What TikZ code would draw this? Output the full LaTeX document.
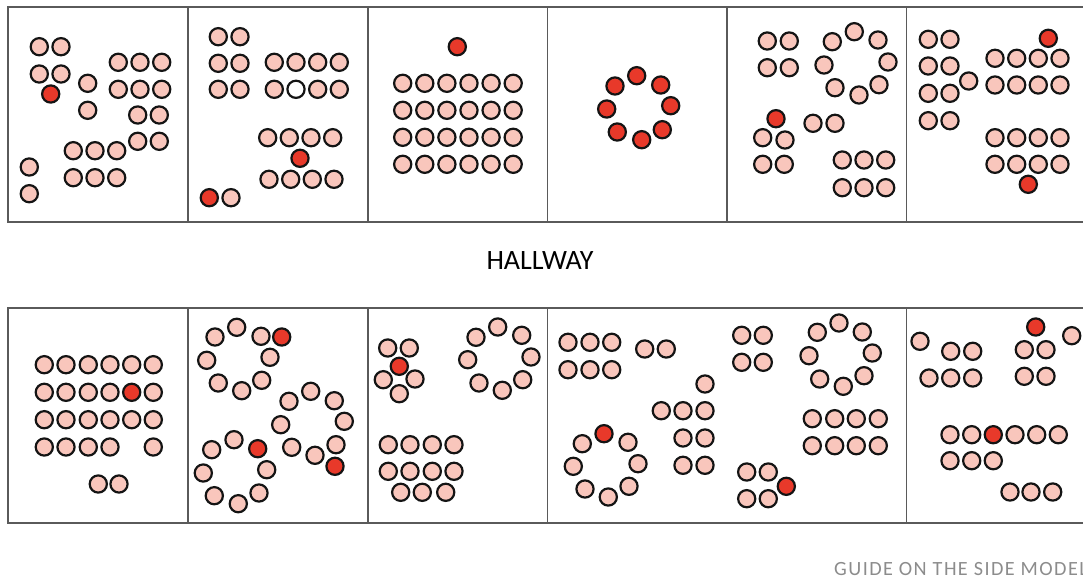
\documentclass[tikz,border=0pt]{standalone}
\usepackage{fontspec}
\setmainfont{Carlito}
\definecolor{pk}{HTML}{F9C6BC}
\definecolor{rd}{HTML}{E8392A}
\definecolor{wall}{HTML}{5A5A5A}
\definecolor{capt}{HTML}{8C8C8C}
\tikzset{
  pc/.style={draw=black!92, line width=2.2pt, fill=pk},
  rc/.style={draw=black!92, line width=2.2pt, fill=rd},
  wc/.style={draw=black!92, line width=2.2pt, fill=white},
  wallline/.style={draw=wall, line width=1.7pt},
}
\newcommand{\rr}{8.6}
\begin{document}
\begin{tikzpicture}[x=1pt,y=-1pt]
\useasboundingbox (0,0) rectangle (1083,579);
\clip (0,0) rectangle (1083,579);
% ---------- walls ----------
\draw[wallline] (1095,6.7) -- (8.3,6.7) -- (8.3,221.7) -- (1095,221.7);
\foreach \x in {188,368,547.5,727,906.5} \draw[wallline] (\x,6.7) -- (\x,221.7);
\draw[wallline] (1095,308) -- (8.3,308) -- (8.3,523) -- (1095,523);
\foreach \x in {188,368,547.5,906.5} \draw[wallline] (\x,308) -- (\x,523);
% ---------- texts ----------
\node[font=\fontsize{28}{32}\selectfont] (hall) at (540,261) {HALLWAY};
\node[font=\fontsize{20.2}{24}\selectfont\addfontfeatures{LetterSpace=7}, text=capt, anchor=west, inner sep=0pt] (guide) at (834,569) {GUIDE ON THE SIDE MODEL};
% ---------- room 1 ----------
\foreach \x/\y in {39.3/46.7,61/46.7,39.3/74,61/74,87.7/83.3,87.7/110.3,
  118.3/62.3,140/62.3,161.7/62.3,118.3/89.3,140/89.3,161.7/89.3,
  137.7/115,159.3/115,137.7/141.3,159.3/141.3,
  73.3/150.7,95/150.7,116.7/150.7,73.3/177.7,95/177.7,116.7/177.7,
  29.3/167,29.3/193.7}
  \path[pc] (\x,\y) circle (\rr);
\path[rc] (50.7,94) circle (\rr);
% ---------- room 2 ----------
\foreach \x/\y in {218.3/36.7,240/36.7,218.3/63.3,240/63.3,218.3/89.3,240/89.3,
  274.3/62.3,296/62.3,317.7/62.3,339.3/62.3,274.3/89.3,317.7/89.3,339.3/89.3,
  267.7/137.7,289.3/137.7,311/137.7,332.7/137.7,
  269/179.3,290.7/179.3,312.3/179.3,334/179.3,231/197.7}
  \path[pc] (\x,\y) circle (\rr);
\path[wc] (296,89.3) circle (\rr);
\path[rc] (300,158.3) circle (\rr);
\path[rc] (209.3,197.7) circle (\rr);
% ---------- room 3 ----------
\foreach \x in {402.7,424.8,446.9,469,491.1,513.2}
  \foreach \y in {83.3,110.3,137.3,164.3}
    \path[pc] (\x,\y) circle (\rr);
\path[rc] (457.3,46.7) circle (\rr);
% ---------- room 4 ----------
\foreach \x/\y in {636.7/75.7,660.7/85,670.7/105.7,662.3/129.7,641.7/139.7,617.3/132,606.7/109,615/86}
  \path[rc] (\x,\y) circle (\rr);
% ---------- room 5 ----------
\foreach \x/\y in {767.3/41,789.3/41,767.3/67.7,789.3/67.7,
  854.3/31.7,878/40,888/62,879/84.7,859/95,835/87.7,824/65,832.3/41.7,
  762.7/137.7,785/140,762.7/164.3,784.3/164.3,813/123.3,835/123.3,
  842.3/160,864/160,885.7/160,842.3/187.7,864/187.7,885.7/187.7}
  \path[pc] (\x,\y) circle (\rr);
\path[rc] (776,118.7) circle (\rr);
% ---------- room 6 ----------
\foreach \y in {39.3,66,93.3,120.7}
  \foreach \x in {928.3,950}
    \path[pc] (\x,\y) circle (\rr);
\path[pc] (968.7,81) circle (\rr);
\foreach \y in {58.3,85,137.7,164.3}
  \foreach \x in {995,1016.7,1038.3,1060}
    \path[pc] (\x,\y) circle (\rr);
\path[rc] (1048.3,38.3) circle (\rr);
\path[rc] (1028.3,184.3) circle (\rr);
% ---------- room 7 ----------
\foreach \x/\y in {44.3/364.7,66/364.7,88.3/364.7,110/364.7,131.7/364.7,153.3/364.7,
  44.3/392.3,66/392.3,88.3/392.3,110/392.3,153.3/392.3,
  44.3/419.7,66/419.7,88.3/419.7,110/419.7,131.7/419.7,153.3/419.7,
  44.3/447,66/447,88.3/447,110/447,153.3/447,
  98.3/484,119/484}
  \path[pc] (\x,\y) circle (\rr);
\path[rc] (131.7,392.3) circle (\rr);
% ---------- room 8 ----------
\foreach \x/\y in {236.7/327.3,261/336.3,270/357.3,261.7/380.3,241.7/390.7,218.3/383,206.7/360.3,215/337,
  310.7/391.3,334.3/400.7,344.3/421.3,336/444.7,315/455.3,291.7/447.3,280.7/424.7,289/401.3,
  234/439.7,266.7/469.7,259/493,238.3/503.7,214.3/495.7,203.3/473,211.7/449.7}
  \path[pc] (\x,\y) circle (\rr);
\foreach \x/\y in {281.7/337,335/466.3,257.7/448.7}
  \path[rc] (\x,\y) circle (\rr);
% ---------- room 9 ----------
\foreach \x/\y in {387.7/348,409.3/348,383.3/379.7,415/379,399.3/393.7,
  497.7/327,521.7/335.3,531/357,522.7/379.7,502.3/390.3,479/383,467.7/359.7,476/337.3,
  388.3/444.7,410/444.7,432.3/444.7,454/444.7,
  388.3/471.3,410/471.3,432.3/471.3,454/471.3,
  400.7/492.3,422.3/492.3,445.7/492.3}
  \path[pc] (\x,\y) circle (\rr);
\path[rc] (399.3,366.3) circle (\rr);
% ---------- room 10 ----------
\foreach \x/\y in {568/342.3,590/342.3,611.7/342.3,568/369.7,590/369.7,611.7/369.7,
  644.7/349,666.3/349,705/384,661.3/410.7,683/410.7,705/410.7,
  683/438,705/438,683/465.3,705/465.3,
  628/442.3,638/463.7,629/486.3,608.3/497,585/489,573.3/466.3,582.3/443.7,
  741.7/335.3,763.3/335.3,741.7/362.3,763.3/362.3,
  839/323,862.3/332,872.3/353,864/375.7,843.3/386.3,819.7/379,809/355.7,817.3/332.3,
  812.3/418.7,834.7/418.7,856.3/418.7,878.3/418.7,
  812.3/445.7,834.7/445.7,856.3/445.7,878.3/445.7,
  746.7/472,768.3/472,746.7/498.7,768.3/498.7}
  \path[pc] (\x,\y) circle (\rr);
\path[rc] (604,433.7) circle (\rr);
\path[rc] (786.3,486.3) circle (\rr);
% ---------- room 11 ----------
\foreach \x/\y in {920/341.3,950.7/351.3,972.7/351.3,929/378,950.7/378,972.7/378,
  1024.3/349.7,1046/349.7,1024.3/376.3,1046/376.3,1071.7/335.7,
  950/434.7,971.7/434.7,1015/434.7,1036.7/434.7,1058.3/434.7,
  950/460.7,971.7/460.7,993.3/460.7,
  1010/492,1031/492,1052.7/492}
  \path[pc] (\x,\y) circle (\rr);
\path[rc] (1035.7,327) circle (\rr);
\path[rc] (993.3,434.7) circle (\rr);
\end{tikzpicture}
\end{document}
